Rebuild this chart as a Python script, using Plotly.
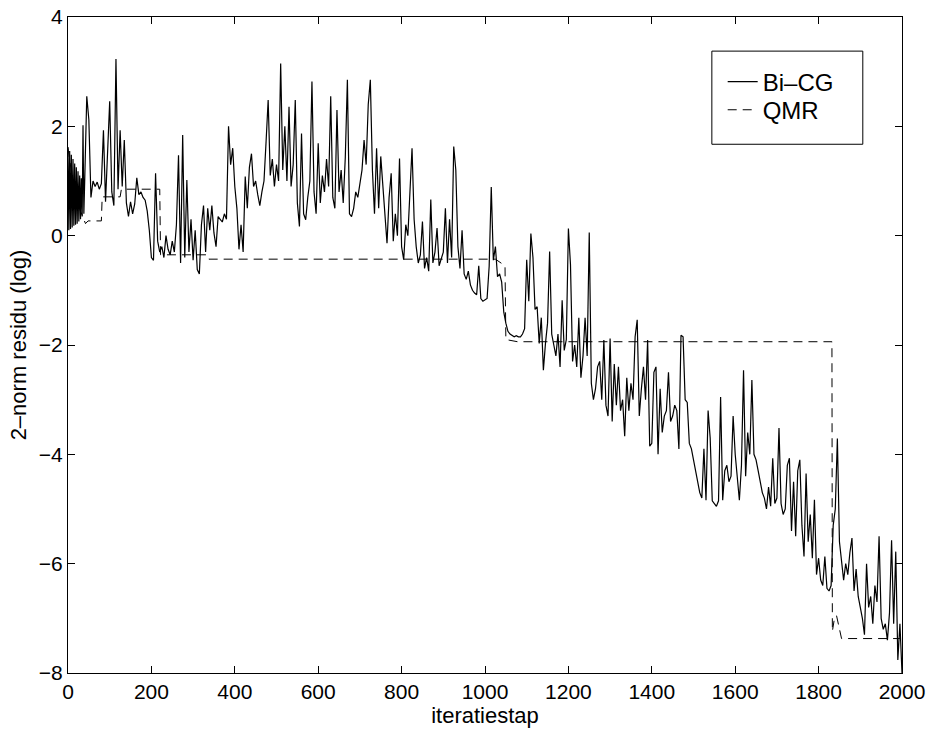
import plotly.graph_objects as go

# Iteration steps: every 2nd iteration up to 40 (dense oscillation), then every 5th
bicg_iter = list(range(0, 41, 2)) + list(range(45, 2001, 5))

# Bi-CG 2-norm residual (log10)
bicg_val = [
    1.62, 0.10, 1.55, 0.12, 1.48, 0.15, 1.40, 0.18, 1.32, 0.20, 1.25,  # 0-20
    0.22, 1.18, 0.26, 1.10, 0.30, 1.05, 0.35, 2.02, 0.40, 0.98,        # 22-40
    2.55,                                                              # 45
    2.12, 0.70, 1.00, 0.90, 0.98, 0.85, 0.95, 1.93, 0.62, 1.55,        # 50
    2.46, 0.80, 0.55, 3.23, 0.85, 1.93, 0.90, 1.75, 0.60, 0.35,        # 100
    0.62, 0.40, 0.58, 1.06, 0.75, 0.80, 0.70, 0.65, 0.45, 0.10,        # 150
    -0.40, -0.45, 1.14, -0.10, -0.30, -0.20, -0.40, 0.00, -0.25, -0.35,  # 200
    -0.10, -0.30, 0.20, 1.47, -0.50, 1.84, -0.40, 1.02, -0.30, 0.30,   # 250
    -0.45, 0.10, -0.62, -0.70, 0.20, 0.55, -0.30, 0.50, 0.10, 0.55,    # 300
    0.05, -0.20, 0.35, 0.30, 0.25, 0.40, 0.30, 2.00, 1.30, 1.60,       # 350
    0.90, 0.50, -0.25, 0.20, -0.30, 1.08, 0.50, 1.25, 1.50, 0.90,      # 400
    1.00, 0.75, 0.55, 0.80, 1.00, 1.72, 2.48, 1.10, 1.40, 0.90,        # 450
    1.30, 1.00, 3.15, 1.20, 2.00, 1.00, 2.36, 0.90, 1.30, 2.48,        # 500
    0.60, 0.17, 1.87, 0.40, 0.29, 0.70, 1.00, 2.82, 0.80, 0.40,        # 550
    1.69, 0.60, 1.10, 0.80, 1.40, 0.90, 2.55, 0.70, 0.50, 2.30,        # 600
    0.80, 1.20, 0.60, 1.44, 2.85, 0.40, 0.35, 0.50, 0.80, 0.70,        # 650
    1.00, 1.20, 1.75, 1.30, 2.40, 2.85, 1.20, 0.40, 1.60, 0.50,        # 700
    1.45, 0.90, 0.30, -0.14, 0.70, 1.14, -0.10, 0.40, 0.00, 1.41,      # 750
    -0.20, -0.44, 0.20, 0.00, 0.80, 1.60, 0.30, -0.20, -0.50, -0.35,   # 800
    0.26, -0.60, -0.40, -0.65, 0.66, -0.50, -0.30, 0.14, -0.55, -0.40, # 850
    -0.30, 0.50, -0.50, 0.30, -0.40, 1.63, 1.20, -0.20, -0.60, 0.10,   # 900
    -0.70, -0.80, -0.65, -0.90, -1.00, -1.05, -1.08, -0.55, -1.15, -1.20,  # 950
    -1.18, -1.15, -0.56, 0.89, -0.45, -0.20, -0.75, -0.70, -0.85, -1.40,   # 1000
    -1.60, -1.75, -1.80, -1.82, -1.85, -1.83, -1.85, -1.85, -1.80, -1.70,  # 1050
    -0.44, -1.20, 0.04, -0.40, -1.35, -1.30, -1.97, -1.50, -2.46, -1.97,   # 1100
    -1.60, -0.29, -1.80, -2.00, -2.20, -1.80, -2.40, -1.18, -2.10, -1.90,  # 1150
    0.13, -0.53, -2.30, -2.00, -2.40, -1.50, -2.60, -2.20, -1.50, -2.20,   # 1200
    0.06, -2.70, -3.00, -2.80, -2.40, -2.30, -3.00, -1.91, -3.10, -3.30,   # 1250
    -1.88, -3.40, -2.35, -3.10, -2.40, -3.20, -3.00, -3.67, -2.60, -3.20,  # 1300
    -2.70, -3.00, -1.85, -1.54, -3.30, -2.80, -2.40, -3.00, -1.91, -3.85,  # 1350
    -3.80, -2.50, -2.40, -4.00, -2.80, -3.60, -3.30, -3.20, -2.50, -3.40,  # 1400
    -3.30, -3.10, -3.20, -3.90, -1.82, -1.85, -3.00, -3.05, -3.80, -3.90,  # 1450
    -4.10, -4.30, -4.50, -4.70, -4.80, -3.90, -4.84, -3.20, -3.70, -4.85,  # 1500
    -4.90, -4.95, -4.85, -2.95, -4.84, -4.30, -4.20, -4.50, -4.40, -3.30,  # 1550
    -4.00, -4.40, -4.84, -4.20, -2.46, -4.40, -3.60, -4.00, -2.64, -4.00,  # 1600
    -4.10, -4.30, -4.50, -4.70, -4.80, -5.00, -4.60, -4.95, -4.07, -4.90,  # 1650
    -4.80, -3.52, -4.90, -5.10, -5.00, -4.20, -4.07, -5.40, -4.50, -5.50,  # 1700
    -4.30, -4.10, -5.30, -5.87, -4.35, -5.60, -5.10, -5.90, -4.83, -6.20,  # 1750
    -5.90, -6.30, -6.40, -5.87, -6.45, -6.50, -6.40, -5.30, -5.00, -3.71,  # 1800
    -5.60, -6.00, -6.30, -6.00, -6.20, -5.80, -5.53, -6.50, -6.10, -6.60,  # 1850
    -6.80, -7.00, -7.30, -6.00, -6.80, -6.60, -7.10, -6.40, -6.70, -5.50,  # 1900
    -7.00, -7.20, -7.10, -7.40, -6.90, -5.57, -7.10, -5.78, -7.76, -7.10,  # 1950
    -8.00,                                                              # 2000
]

# QMR residual: staircase vertices
qmr_iter = [0, 15, 30, 38, 42, 48, 80, 82, 125, 128, 220, 222, 335, 338,
            1025, 1048, 1050, 1078, 1832, 1833, 1838, 1843, 1855, 1995]
qmr_val = [1.60, 0.80, 0.45, 0.30, 0.22, 0.27, 0.27, 0.71, 0.71, 0.85, 0.85, -0.35, -0.35, -0.43,
           -0.43, -0.55, -1.90, -1.94, -1.94, -7.24, -7.00, -6.95, -7.37, -7.37]

x_ticks = [0, 200, 400, 600, 800, 1000, 1200, 1400, 1600, 1800, 2000]
y_ticks = [-8, -6, -4, -2, 0, 2, 4]

FONT = "Liberation Sans, Arial, Helvetica, sans-serif"

fig = go.Figure()
fig.add_trace(go.Scatter(x=bicg_iter, y=bicg_val, mode="lines", name="Bi\u2013CG",
                         line=dict(color="black", width=1.2), legend="legend"))
fig.add_trace(go.Scatter(x=qmr_iter, y=qmr_val, mode="lines", name="QMR",
                         line=dict(color="black", width=1, dash="9px,6px"), legend="legend2"))

axis_common = dict(showgrid=False, zeroline=False, showline=True, linecolor="black",
                   linewidth=1, mirror="ticks", ticks="inside", ticklen=7,
                   tickcolor="black", tickwidth=1, automargin=False,
                   ticklabeloverflow="allow",
                   tickfont=dict(family=FONT, size=21, color="black"))

fig.update_xaxes(range=[0, 2000], tickvals=x_ticks,
                 title=dict(text="iteratiestap", font=dict(family=FONT, size=22, color="black"), standoff=0),
                 **axis_common)
fig.update_yaxes(range=[-8, 4], tickvals=y_ticks,
                 title=dict(text="2\u2013norm residu (log)", font=dict(family=FONT, size=22, color="black"), standoff=6),
                 **axis_common)

# legend frame
fig.add_shape(type="rect", xref="paper", yref="paper",
              x0=0.772, x1=0.953, y0=0.806, y1=0.948,
              line=dict(color="black", width=1), fillcolor="white", layer="below")

leg_common = dict(xanchor="left", yanchor="middle", bgcolor="rgba(0,0,0,0)", borderwidth=0,
                  font=dict(family=FONT, size=24, color="black"), itemwidth=30)

fig.update_layout(
    width=930, height=731,
    margin=dict(l=68, r=28, t=17, b=58, autoexpand=False),
    paper_bgcolor="white", plot_bgcolor="white",
    font=dict(family=FONT, color="black"),
    showlegend=True,
    hovermode=False,
    legend=dict(x=0.785, y=0.901, **leg_common),
    legend2=dict(x=0.785, y=0.858, **leg_common),
)

# remove the default 8px page margin so the figure fills the window exactly
fig.write_html("out.html",
               config={"displayModeBar": False, "staticPlot": True},
               post_script="document.body.style.margin='0';document.body.style.overflow='hidden';")
